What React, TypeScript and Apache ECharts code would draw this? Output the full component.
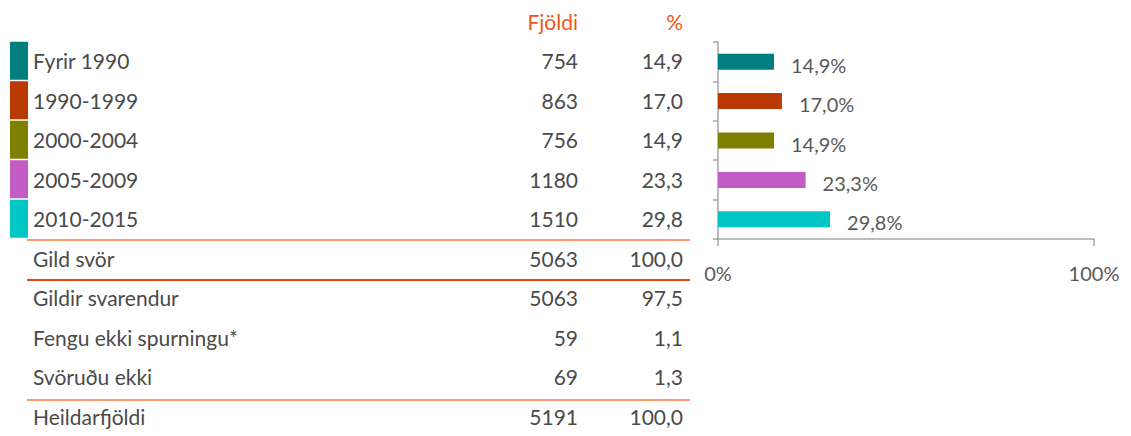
import React, { useEffect, useRef } from "react";
import * as echarts from "echarts";

const categories = ["Fyrir 1990", "1990-1999", "2000-2004", "2005-2009", "2010-2015"];
const counts = [754, 863, 756, 1180, 1510];
const percents = [14.9, 17.0, 14.9, 23.3, 29.8];
const colors = ["#007F7F", "#B93A00", "#7F7F00", "#C45CC8", "#00C6C4"];
const summaryLabels = ["Gild svör", "Gildir svarendur", "Fengu ekki spurningu*", "Svöruðu ekki", "Heildarfjöldi"];
const summaryCounts = [5063, 5063, 59, 69, 5191];
const summaryPercents = [100.0, 97.5, 1.1, 1.3, 100.0];
const headerCount = "Fjöldi";
const headerPercent = "%";
const xTicks = [0, 100];

const FONT = "Lato, 'Open Sans', sans-serif";
const WEIGHT = 400;
const TEXT = "#4A4A4A";
const ORANGE = "#F0561A";
const LIGHT_LINE = "#F7996C";
const DARK_LINE = "#E8430A";

const fmt = (v: number) => v.toFixed(1).replace(".", ",");

export default function App() {
  const ref = useRef<HTMLDivElement>(null);
  useEffect(() => {
    if (!ref.current) return;
    const chart = echarts.init(ref.current, null, { renderer: "svg" });

    const tableTop = 1.5;
    const rowH = 40;
    const rows = ["__header__", ...categories, ...summaryLabels];
    const rowCounts: (number | null)[] = [null, ...counts, ...summaryCounts];
    const rowPercents: (number | null)[] = [null, ...percents, ...summaryPercents];

    const separators = [
      { k: 1 + categories.length, color: LIGHT_LINE },
      { k: 2 + categories.length, color: DARK_LINE },
      { k: rows.length - 1, color: LIGHT_LINE },
    ];

    const cell = (color: string, width?: number, align?: string) => ({
      width,
      align,
      fontSize: 21,
      color,
      fontFamily: FONT,
      fontWeight: WEIGHT,
    });

    chart.setOption({
      animation: false,
      textStyle: { fontFamily: FONT },
      grid: [
        { left: 718, top: 42, width: 376, height: 197, containLabel: false },
        { left: 10, top: tableTop, width: 18, height: rowH * rows.length, containLabel: false },
      ],
      xAxis: [
        {
          gridIndex: 0,
          type: "value",
          min: xTicks[0],
          max: xTicks[1],
          interval: xTicks[1] - xTicks[0],
          axisLine: { show: true, lineStyle: { color: "#A6A6A6", width: 1.5 } },
          axisTick: { show: true, length: 7, lineStyle: { color: "#A6A6A6", width: 1.5 } },
          splitLine: { show: false },
          axisLabel: {
            formatter: "{value}%",
            fontSize: 20,
            color: "#595959",
            margin: 24,
            fontFamily: FONT,
            fontWeight: WEIGHT,
          },
        },
        { gridIndex: 1, type: "value", min: 0, max: 1, show: false },
      ],
      yAxis: [
        {
          gridIndex: 0,
          type: "category",
          data: categories,
          inverse: true,
          axisLine: { show: true, lineStyle: { color: "#A6A6A6", width: 1.5 } },
          axisTick: { show: true, length: 5, lineStyle: { color: "#A6A6A6", width: 1.5 } },
          axisLabel: { show: false },
        },
        {
          gridIndex: 1,
          type: "category",
          data: rows,
          inverse: true,
          position: "right",
          axisLine: { show: false },
          axisTick: { show: false },
          axisLabel: {
            interval: 0,
            margin: 5,
            formatter: (_v: string, i: number) => {
              if (i === 0) return `{name| }{hn|${headerCount}}{hp|${headerPercent}}`;
              const c = rowCounts[i];
              const p = rowPercents[i];
              return `{name|${rows[i]}}{n|${c}}{p|${p === null ? "" : fmt(p)}}`;
            },
            rich: {
              name: cell(TEXT, 400),
              n: cell(TEXT, 145, "right"),
              p: cell(TEXT, 105, "right"),
              hn: cell(ORANGE, 145, "right"),
              hp: cell(ORANGE, 105, "right"),
            },
          },
        },
      ],
      series: [
        {
          type: "bar",
          xAxisIndex: 0,
          yAxisIndex: 0,
          barWidth: 16,
          data: percents.map((v, i) => ({ value: v, itemStyle: { color: colors[i] } })),
          label: {
            show: true,
            position: "right",
            distance: 17,
            offset: [0, 3],
            fontSize: 20,
            color: "#595959",
            fontFamily: FONT,
            fontWeight: WEIGHT,
            formatter: (p: any) => `${fmt(p.value)}%`,
          },
        },
        {
          type: "bar",
          xAxisIndex: 1,
          yAxisIndex: 1,
          barWidth: 38,
          silent: true,
          data: rows.map((_r, i) =>
            i >= 1 && i <= categories.length
              ? { value: 1, itemStyle: { color: colors[i - 1] } }
              : null
          ),
        },
      ],
      graphic: separators.map((s) => ({
        type: "line",
        shape: { x1: 27, y1: tableTop + rowH * s.k - 1.5, x2: 690, y2: tableTop + rowH * s.k - 1.5 },
        style: { stroke: s.color, lineWidth: 2 },
        silent: true,
      })),
    });

    return () => chart.dispose();
  }, []);

  return <div ref={ref} style={{ width: 1131, height: 436, position: "absolute", left: 0, top: 0 }} />;
}
